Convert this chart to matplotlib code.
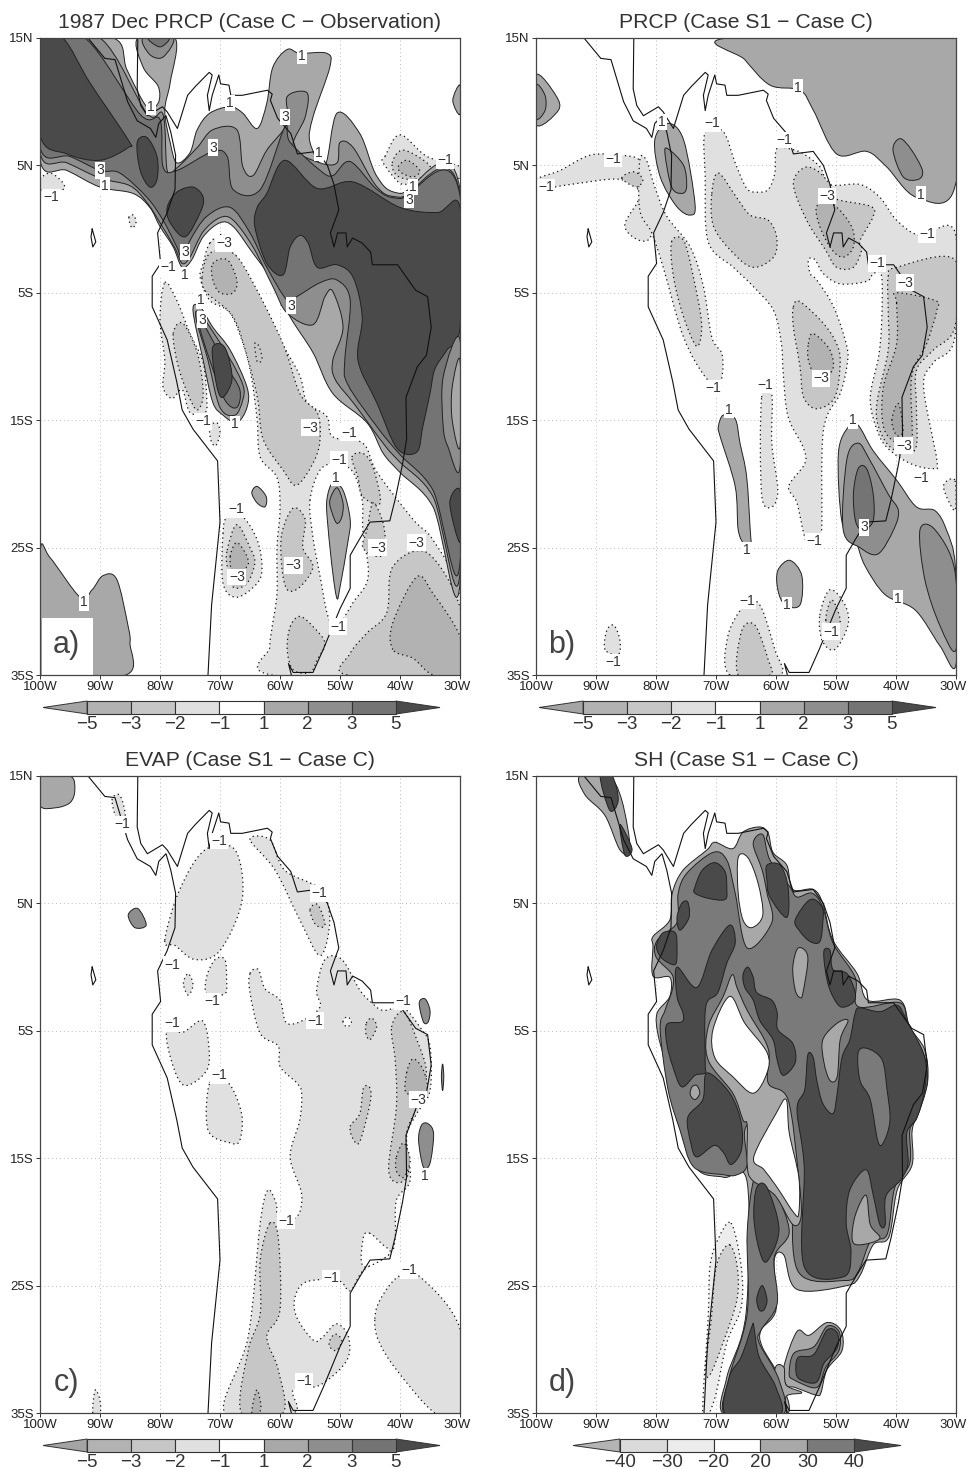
import numpy as np
import matplotlib
matplotlib.use('Agg')
import matplotlib.pyplot as plt
from matplotlib.path import Path
from matplotlib.patches import PathPatch, Rectangle
from matplotlib.transforms import ScaledTranslation

plt.rcParams['font.family'] = ['Liberation Sans', 'DejaVu Sans']

LON_TICKS = [-100, -90, -80, -70, -60, -50, -40, -30]
LON_LABELS = ['100W', '90W', '80W', '70W', '60W', '50W', '40W', '30W']
LAT_TICKS = [15, 5, -5, -15, -25, -35]
LAT_LABELS = ['15N', '5N', '5S', '15S', '25S', '35S']

TITLES = ['1987 Dec PRCP (Case C \u2212 Observation)', 'PRCP (Case S1 \u2212 Case C)',
          'EVAP (Case S1 \u2212 Case C)', 'SH (Case S1 \u2212 Case C)']

# colour bars
PR_LEVELS = [-5, -3, -2, -1, 1, 2, 3, 5]
PR_COLORS = ['#a4a4a4', '#b2b2b2', '#c6c6c6', '#e0e0e0', '#ffffff', '#a8a8a8', '#8e8e8e', '#747474', '#4a4a4a']
SH_LEVELS = [-40, -30, -20, 20, 30, 40]
SH_COLORS = ['#b4b4b4', '#dadada', '#ececec', '#ffffff', '#a8a8a8', '#7a7a7a', '#4a4a4a']

# coast lines, lon/lat
COAST_ATL = [(-83.7,15),(-83.8,11),(-83.2,9.7),(-82.1,8.9),(-79.6,9.6),(-78.8,9.2),(-77.1,7.9),(-75.4,10.5),(-74.1,11.2),(-71.8,12.3),(-71.3,12.1),(-72.1,10.5),(-71.8,9.3),(-71.3,10.5),(-70.2,12.1),(-69.9,11.4),(-68.5,11.3),(-68.2,10.5),(-66.3,10.5),(-62.1,10.9),(-61.3,10.6),(-61.6,10.1),(-60.4,8.7),(-58.2,7.5),(-57.1,5.9),(-53.8,6.1),(-52.1,5),(-51,3.5),(-50.2,1.5),(-51.6,-0.3),(-51,-1.4),(-50.4,-0.3),(-49,-0.3),(-48.8,-1.4),(-47.9,-0.7),(-46.3,-1.1),(-44.9,-1.8),(-44.6,-2.8),(-40.4,-2.8),(-37.4,-4.8),(-35.4,-5.3),(-34.8,-7.7),(-35.6,-9.9),(-37.1,-10.8),(-39,-13.2),(-38.9,-16.5),(-39.6,-18.5),(-40.8,-21.2),(-41.7,-22.9),(-45,-23),(-46.7,-24.3),(-48.3,-25.6),(-48.3,-28.2),(-50,-29.8),(-52.8,-33),(-54.5,-34.8),(-57.8,-34.8),(-58.6,-34.1),(-58.1,-35)]
COAST_PAC = [(-92,15),(-89.2,13.4),(-87.5,13.3),(-85.4,10),(-83.8,8.5),(-81.6,7.9),(-80.7,7.2),(-80.2,8.3),(-79,8.9),(-78.2,7.6),(-77.4,5.8),(-77.5,3.1),(-78.8,1.3),(-80.4,-0.3),(-79.9,-2.7),(-81.3,-3.7),(-81.3,-6.1),(-78.8,-8.7),(-77.2,-12),(-76.3,-14.2),(-74.5,-15.7),(-70.4,-18.2),(-70,-23),(-71.4,-29.5),(-72,-35)]
GALAPAGOS = [(-91.3,0),(-90.7,-1),(-91.2,-1.4),(-91.5,-0.6),(-91.3,0)]

# panel a
A_NEG1 = [
    [(-71.7,-1.1),(-69.2,-0.5),(-66.7,-2.8),(-60,-8.7),(-56.7,-11.5),(-55.5,-13.6),(-52.2,-14.7),(-51.2,-16.3),(-46.2,-16.8),(-43.8,-19.1),(-37.8,-22.8),(-34.5,-24.4),(-30,-28.6),(-30,-35),(-61.3,-35),(-61.7,-32.8),(-61.3,-31.2),(-60.5,-28.6),(-60.5,-25),(-60,-22),(-60.5,-19.5),(-63.3,-17.9),(-63.8,-15),(-64.7,-11.8),(-65.8,-9.5),(-68.3,-6.6),(-71.7,-5.6),(-73.3,-3.8),(-72.8,-2.7)],
    [(-79.2,-4.2),(-77.2,-5.6),(-75,-8.2),(-72.8,-10.5),(-72.2,-13.4),(-72.5,-14.4),(-75,-14.4),(-76.3,-12.6),(-78,-13.3),(-79.5,-12.4),(-79.2,-10.3),(-80,-7.1)],
    [(-71.7,-15.5),(-70.5,-15.2),(-70,-16),(-70.7,-17),(-71.5,-16.6)],
    [(-85.2,0.9),(-84.4,1.1),(-84,0.5),(-84.7,0.1)],
    [(-69.5,-23.9),(-68.8,-22.6),(-66.2,-22.6),(-63.8,-24.4),(-63,-26.5),(-63.8,-27.8),(-67.2,-28.9),(-69.5,-27.8)],
    [(-42.5,5.7),(-40,7.4),(-35.5,5.7),(-30,4.9),(-30,4),(-35.5,4),(-37.8,3.7),(-40,3.6),(-42.8,5.2)],
    [(-100,3.9),(-98.3,4.4),(-96.3,3.7),(-96.2,3.1),(-100,3.1)],
]
A_HOLE = [[(-55,-21.3),(-53.3,-18.9),(-50.5,-18.4),(-47.8,-19.1),(-46.3,-21.3),(-46.2,-23.6),(-45.3,-27.3),(-47.8,-29.3),(-50.5,-31.2),(-52,-30.4),(-53.3,-27.3),(-54.5,-24.2)]]
A_NEG2 = [
    [(-73,-3.8),(-71.7,-1.9),(-67.8,-1.9),(-64.5,-4.2),(-59.5,-9),(-56.7,-12.9),(-53.8,-14.4),(-53.3,-16.3),(-54.2,-18.1),(-57.2,-20.1),(-59.5,-18.9),(-62.8,-16.5),(-63.7,-13.4),(-65.3,-10.3),(-67.8,-6.9),(-72.2,-5)],
    [(-59.7,-23.9),(-57.8,-21.9),(-55.8,-22.8),(-56.2,-25),(-54.5,-26.5),(-56.7,-28.1),(-58.8,-28.3),(-59.7,-26.5)],
    [(-58.3,-31.2),(-56.7,-30.4),(-54.5,-31.2),(-52.5,-32.5),(-53.8,-33.8),(-55,-34.8),(-57.8,-34.6),(-58.8,-33)],
    [(-48.8,-35),(-48.3,-33.3),(-45.5,-31.7),(-42.2,-30.1),(-41.2,-26.5),(-35.5,-25.4),(-30,-29.7),(-30,-35)],
    [(-48,-17.9),(-46.2,-17.6),(-44.5,-18.7),(-43.3,-21.5),(-46.2,-21),(-47,-19.5)],
    [(-45.5,-23.6),(-44.5,-21.5),(-42.8,-23.1),(-42.5,-25.2),(-43.8,-25.7),(-46.2,-25)],
    [(-77.8,-8.2),(-76.2,-7.4),(-73.8,-9.7),(-72.8,-12.9),(-73.8,-14.2),(-75.3,-13),(-77,-10.7)],
    [(-64.2,-9),(-63.5,-9.2),(-63,-10.2),(-63.8,-10.4)],
    [(-68.8,-25.2),(-67.2,-23.2),(-65,-25),(-64.2,-26.2),(-65.5,-27.8),(-67.8,-28.1),(-68.8,-26.5)],
    [(-41.3,5.2),(-39.5,6.2),(-35.5,5.2),(-35,4.4),(-37.8,3.9),(-40.5,4.2)],
]
A_NEG3 = [
    [(-71.2,-2.7),(-68.8,-2.4),(-67.2,-4),(-67.8,-5),(-70,-5),(-71.2,-4)],
    [(-41.2,-33),(-41.2,-30.9),(-37.2,-27.3),(-34.5,-28.6),(-30,-32),(-30,-35),(-34.5,-35),(-37.8,-33.7)],
    [(-68.3,-25.7),(-67.2,-24.6),(-65.5,-25.7),(-65.5,-26.5),(-67.8,-27)],
    [(-40.3,4.9),(-38.8,5.4),(-36.7,4.6),(-37.8,4.1),(-39.7,4.4)],
]
A_POS1 = [
    [(-100,15),(-87.8,15),(-85.5,12.5),(-82.2,9.6),(-80.3,9.9),(-80.3,11.2),(-82.8,12.7),(-83.7,15),(-77.5,15),(-78.3,11.5),(-79.2,9.3),(-78.3,6.8),(-77.2,5.2),(-75,6),(-73.8,7.8),(-71.7,9.1),(-68.3,9.6),(-66.2,9.1),(-63.8,7.9),(-62.2,9.9),(-61.2,12.7),(-58.8,14.1),(-56.7,13.8),(-52.2,13.8),(-51.7,12.7),(-54.5,8.8),(-55,6.8),(-52.5,5),(-50.5,9.1),(-46.7,7.5),(-43.8,4.1),(-40,2.8),(-30,3.1),(-30,-27.8),(-34.5,-21.8),(-40,-19.1),(-42.8,-17.6),(-45.5,-15.2),(-51.2,-12.9),(-54.5,-9.7),(-58.3,-6.9),(-60.5,-4.5),(-64.5,-1.9),(-67.8,0.2),(-70,0.5),(-72.8,-0.6),(-74.7,-2.4),(-76.3,-3),(-77.8,-1.4),(-80,0.2),(-81.7,1.7),(-84.5,2.8),(-90,3.3),(-95.5,4.6),(-100,5.4)],
    [(-74.5,-6.4),(-73.3,-6.1),(-71.2,-7.7),(-68.3,-9.5),(-65.5,-12.4),(-65.5,-14),(-67.2,-15.2),(-69.5,-14.6),(-71.2,-13.6),(-72.8,-10.3)],
    [(-64.7,-20.7),(-63.8,-20.2),(-62.3,-21),(-62.5,-21.8),(-63.8,-21.5)],
    [(-52.2,-21.3),(-51.2,-19.9),(-49.5,-20.5),(-48.3,-22.8),(-48.7,-24.6),(-50,-28.1),(-50.5,-29),(-51.2,-27),(-52,-23.4)],
    [(-100,-25.4),(-98.3,-25.8),(-93.3,-28.9),(-91.3,-28.3),(-89.5,-27.2),(-87.2,-27.5),(-85.3,-31.2),(-85,-32.5),(-85.7,-35),(-100,-35)],
    [(-30,11.3),(-31.2,10.1),(-30,9)],
]
A_POS2 = [
    [(-90,15),(-82.2,9.1),(-79.5,9),(-78.8,4.6),(-77.2,4.8),(-73.8,6.4),(-71.2,7.8),(-67.2,7.8),(-66.2,4.9),(-64.5,4.2),(-62.2,6.2),(-58.8,8.3),(-58.8,10.4),(-55.5,10.7),(-55.8,8.8),(-57.8,6.4),(-53.3,5.2),(-50.5,5.2),(-50,6.8),(-47.8,6.4),(-43.8,3.3),(-40,2.5),(-30,2.7),(-30,-27),(-34.5,-21),(-40,-18.3),(-42.5,-17),(-47.5,-13.8),(-50.8,-11.8),(-51.2,-10.3),(-49.5,-7.7),(-51.2,-4.9),(-52.5,-5.3),(-54.5,-7.5),(-58.8,-6.6),(-61.2,-4.5),(-64.5,-1.4),(-67.8,0.7),(-70,0.9),(-72.8,-0.2),(-75,-2.2),(-76.3,-2.7),(-77.5,-1.5),(-80,0.5),(-82.2,2.1),(-85,3.4),(-90,4),(-95.5,5.2),(-100,6),(-100,15)],
    [(-82.8,15),(-81.7,13.7),(-79.5,13.5),(-77.8,15)],
    [(-74,-7),(-73.2,-6.7),(-68.7,-9.9),(-66.2,-12.2),(-66.2,-13.4),(-67.5,-14.6),(-70,-14),(-72,-10.3)],
    [(-51.7,-21.3),(-50.5,-20.3),(-49.5,-21.5),(-49.7,-22.6),(-50.5,-23.1),(-51.3,-22.3)],
]
A_POS3 = [
    [(-92.5,15),(-83.3,9),(-80,8.6),(-79.5,4.9),(-77.2,4.6),(-71.2,6.1),(-68.8,5.7),(-67.8,3.1),(-63.3,3.1),(-59.2,8),(-58.3,6.8),(-53.3,4.6),(-51.2,4.2),(-48.3,5.3),(-43.8,3.1),(-40,2.4),(-30,2.6),(-30,-26.2),(-34.5,-20.5),(-40,-17.7),(-43.7,-15.6),(-48.7,-12.2),(-49.2,-10.3),(-48.3,-5.6),(-50.5,-4),(-53.3,-4.2),(-57.2,-5.3),(-58.8,-5.6),(-62.2,-3),(-65,-0.3),(-68.3,1.7),(-72.2,1),(-75,-0.9),(-76.2,-2.4),(-77.2,-1.4),(-79.5,0.7),(-82.2,2.5),(-86.7,4.4),(-90,4.6),(-95,5.7),(-100,6.4),(-100,15)],
    [(-82,15),(-80,14.3),(-78.5,15)],
    [(-73.5,-7.5),(-72.7,-7.5),(-69,-10.7),(-66.7,-12.6),(-67.2,-14),(-69.2,-13.4),(-71.7,-10.3)],
]
A_LOBE2 = [[(-30,-8.7),(-32.8,-11.6),(-32.8,-15.5),(-32,-17.1),(-30,-18.7)]]
A_LOBE1 = [[(-30,-10.3),(-31.3,-12.4),(-31.3,-15),(-30,-17.1)]]
A_POS5 = [
    [(-62.2,2.8),(-59.2,5.4),(-53.8,3.2),(-47.8,3.7),(-40,1.7),(-33.8,1.3),(-30,1.7),(-30,-7.7),(-32.2,-9.5),(-34.2,-11),(-35,-12.9),(-36.2,-15.5),(-37.2,-17.5),(-40.5,-17.2),(-43.8,-13.7),(-47,-10.3),(-46.3,-6.9),(-47.8,-3.8),(-50.5,-2.8),(-53.8,-3),(-55.3,-1.1),(-56.7,-0.5),(-58.3,-1.4),(-59.5,-3.6),(-62.2,-2.7),(-64.2,0.2),(-63.8,1.7)],
    [(-100,15),(-96.2,15),(-91.7,11.5),(-85.3,7),(-85.3,6.4),(-90,5.4),(-95.5,5.9),(-100,7.4)],
    [(-83.8,6.8),(-82.2,7.2),(-80.5,5.7),(-80.5,3.9),(-81.7,3.3),(-83.3,4.6)],
    [(-78.8,1.7),(-77.2,2.9),(-74.5,3.3),(-72.8,2.5),(-73.3,1.3),(-75.8,-0.6),(-78.3,0.5)],
    [(-71.3,-9.5),(-70,-9),(-68.8,-9.7),(-68,-11.8),(-69.5,-13.2),(-70.5,-12.4)],
    [(-30,-20.5),(-31.7,-21.5),(-30,-24.6)],
]
A_LABELS = [(-81.5,9.6,'1'),(-68.3,9.9,'1'),(-71.2,6.4,'3'),(-59.2,8.8,'3'),(-56.3,13.6,'1'),(-53.5,6,'1'),(-32.5,5.4,'\u22121'),(-37.8,3.3,'1'),(-38.5,2.3,'3'),(-90,4.6,'3'),(-89.2,3.4,'1'),(-98.2,2.5,'\u22121'),(-75.8,-1.8,'3'),(-78.7,-3,'\u22121'),(-75.8,-3.6,'1'),(-69.3,-1.1,'\u22123'),(-58.2,-6,'3'),(-73.2,-5.6,'1'),(-73,-7.1,'3'),(-72.8,-15.1,'\u22121'),(-67.5,-15.3,'1'),(-55,-15.6,'\u22123'),(-48.5,-16,'\u22121'),(-50.2,-18.1,'\u22121'),(-50.7,-19.5,'1'),(-67.3,-22,'\u22121'),(-67.2,-27.3,'\u22123'),(-57.8,-26.4,'\u22123'),(-92.7,-29.3,'1'),(-43.7,-25,'\u22123'),(-37.3,-24.6,'\u22123'),(-50.3,-31.2,'\u22121')]

# panel b
B_NEG1 = [
    [(-100,3.9),(-96,4.6),(-91,5.8),(-86,5.8),(-82.7,5.4),(-81,3.5),(-80.7,-0.3),(-82.7,-0.9),(-85.2,0.3),(-82.7,2.7),(-86,3.9),(-94.3,3.5),(-100,3.1)],
    [(-71.8,7.65),(-68.8,7.65),(-66.8,5.2),(-64.9,3.2),(-63.2,2.9),(-61.3,3.1),(-60.2,4.4),(-59.9,6.3),(-57.7,6.3),(-55.4,5.9),(-52.7,4.9),(-51,3.5),(-46,3.5),(-42.7,2.5),(-39.9,0.7),(-36,-0.5),(-30.2,-0.2),(-30.2,-8.5),(-33.8,-10.5),(-35.4,-12.4),(-33.2,-18.1),(-33.8,-18.8),(-37.1,-18.5),(-40.4,-17.6),(-42.7,-16.3),(-44.3,-13.4),(-42.9,-10),(-42.4,-7.4),(-42.4,-3.7),(-43.8,-3.5),(-44.9,-4.1),(-49.3,-4.3),(-52.1,-3.5),(-53.5,-2.4),(-54.6,-2.4),(-54.3,-3.5),(-53.2,-4),(-50.4,-6.1),(-48.2,-9.2),(-48.2,-10.8),(-49.3,-12.9),(-52.1,-15.8),(-52.4,-23.6),(-53.2,-25),(-55,-24.5),(-56.5,-21.5),(-57.9,-20.2),(-55.2,-18.4),(-55.5,-17.1),(-58,-14.7),(-58.8,-11.3),(-59.1,-9),(-60.4,-6.4),(-63.8,-4.5),(-67.1,-3),(-71.3,-1),(-71.8,4.1)],
    [(-82.7,5.4),(-81.6,5.4),(-80.2,3.3),(-78.2,1),(-74.3,-1.4),(-72.1,-4.5),(-70.7,-8.5),(-69,-9.8),(-69,-11.6),(-69.9,-12),(-71.8,-11.6),(-75.4,-8.5),(-78.8,-3),(-80.7,-0.3),(-82.7,1.5)],
    [(-62.4,-13.2),(-60.7,-13),(-60.7,-16.8),(-59.7,-20.5),(-60.7,-21.8),(-62.4,-20.8)],
    [(-30.2,-19.7),(-32.1,-20.2),(-30.2,-22.1)],
    [(-67.7,-35),(-68,-31.9),(-65.2,-29.5),(-62.7,-29.5),(-60.2,-33),(-59.3,-35)],
    [(-52.7,-30.3),(-51,-28.3),(-48.5,-29.5),(-48,-31.1),(-50.2,-33),(-52.3,-32.3)],
    [(-88.5,-33),(-88.2,-31.5),(-87,-31.1),(-86,-32.3),(-86.3,-33.4)],
]
B_NEG2 = [
    [(-77.4,-1),(-75.4,-0.9),(-73.8,-3.7),(-72.4,-7.4),(-73.2,-9.2),(-75.4,-6.9),(-77.1,-3.7)],
    [(-70.7,2.8),(-69.6,4.4),(-66.6,2.5),(-64.3,1.1),(-61.3,0.7),(-59.9,-0.6),(-60.4,-2.2),(-63.8,-3),(-67.1,-1.9),(-70.4,0.2)],
    [(-57.1,3.5),(-55.4,4.8),(-53.2,4.6),(-51,3.5),(-50.2,2.4),(-44.3,1.8),(-43.8,1),(-46,-0.9),(-45.7,-1.6),(-47.1,-3),(-49.9,-3),(-51.8,-1.6),(-54.9,0.7)],
    [(-57.1,-6.1),(-56,-5.7),(-52.1,-7.4),(-49.9,-9),(-49.3,-10.5),(-50.2,-13.2),(-53.2,-14.1),(-55.4,-13.2),(-56,-10.8),(-57.1,-7.7)],
    [(-41.3,-3.7),(-39.9,-3),(-30.2,-2.4),(-30.2,-7.7),(-33.8,-9.5),(-36.6,-11.1),(-36.6,-14),(-36.8,-17.3),(-40.4,-17.3),(-42.7,-15.8),(-43.2,-13.7),(-41.3,-9.5),(-41.3,-6.4)],
    [(-66.3,-35),(-65.7,-31.5),(-63.5,-31.1),(-61.3,-33.8),(-61,-35)],
    [(-51.7,-30.7),(-50.7,-29.1),(-49.3,-30.7),(-50.3,-31.6)],
    [(-85.7,4),(-83.7,4.5),(-82.2,3.9),(-83.3,3.3)],
]
B_NEG3 = [
    [(-53.2,1.8),(-50.4,1.9),(-47.4,0.2),(-47.1,-1.4),(-48.8,-2.2),(-50.7,-1.6),(-52.7,0.2)],
    [(-54.6,-9),(-53.8,-8.2),(-51,-9.5),(-50.6,-11.1),(-53.2,-11.6),(-54.6,-10.3)],
    [(-39.9,-5.8),(-39.9,-5),(-33.5,-5.6),(-33.2,-6.4),(-34.9,-9),(-37.4,-11.6),(-37.4,-16.8),(-39.9,-16.8),(-42.1,-15.5),(-42.1,-12.4),(-39.9,-9)],
]
B_NEG5 = [[(-40.7,-15),(-39.6,-13.7),(-38.8,-15.8),(-39.9,-16.2)]]
B_POS1 = [
    [(-68,15),(-65.2,13.3),(-61,11.3),(-56,10.9),(-53.8,9.35),(-49.9,5.9),(-44.9,6.1),(-41.6,4.9),(-36.6,2.5),(-30.2,3.3),(-30,15)],
    [(-100,12.1),(-96.7,10.5),(-96.3,9.3),(-100,8.2)],
    [(-80.2,7),(-78,8.3),(-75.4,7),(-73.5,2),(-74.3,1.1),(-76.6,1.8),(-79.3,4.1)],
    [(-69.6,-15.5),(-68.8,-14.6),(-66.8,-14.9),(-66,-16.8),(-64.9,-19.4),(-64.3,-23.6),(-64.2,-24.8),(-65.2,-24.8),(-66.3,-23.6),(-66.8,-20.2),(-69.3,-16.3)],
    [(-49.6,-17.6),(-47.9,-15.5),(-46.3,-15.4),(-43.8,-17.4),(-39.9,-19.7),(-36.6,-21.8),(-33.5,-22.1),(-31.6,-23.6),(-30.1,-26.5),(-30,-34.2),(-32.7,-32.7),(-36.8,-29.9),(-41.8,-28.7),(-45.2,-26.4),(-46.8,-24.4),(-49,-23)],
    [(-59.7,-26.8),(-57.7,-26),(-55.7,-27.2),(-56,-29.5),(-58.5,-29.5),(-59.7,-28.3)],
]
B_POS2 = [
    [(-40.5,6.2),(-39.3,7.1),(-37.4,6.2),(-35.6,4.6),(-36.3,3.9),(-38.8,4.1)],
    [(-100,11.3),(-98.5,10.5),(-98.5,9.3),(-100,8.7)],
    [(-78.5,5.9),(-78,6.3),(-75.4,5),(-74.9,3.3),(-75.7,2.8),(-77.4,3.3)],
    [(-48.8,-23.6),(-48.2,-18.1),(-46.3,-16.8),(-44.4,-18.1),(-41.3,-20.8),(-39.6,-22.1),(-40.4,-23.6),(-43,-25.5),(-46,-25)],
    [(-36,-23.6),(-33.5,-23.6),(-30.2,-26.8),(-30,-33),(-32.7,-31.1),(-35.2,-27.5)],
]
B_POS3 = [[(-47.1,-20.8),(-46.3,-18.8),(-44.9,-18.8),(-43.8,-20.8),(-43.8,-22.9),(-45.5,-23.6),(-46.7,-23)]]
B_LABELS = [(-56.3,11.1,'1'),(-79,8.4,'1'),(-70.7,8.3,'\u22121'),(-58.7,7,'\u22121'),(-87.2,5.5,'\u22121'),(-98.3,3.3,'\u22121'),(-51.5,2.6,'\u22123'),(-35.8,2.7,'1'),(-34.8,-0.4,'\u22121'),(-43.2,-2.7,'\u22121'),(-38.5,-4.2,'\u22123'),(-52.5,-11.7,'\u22123'),(-70.5,-12.5,'\u22121'),(-61.8,-12.2,'\u22121'),(-67.8,-14.2,'1'),(-47.2,-15,'1'),(-38.7,-17,'\u22123'),(-35.8,-19.5,'\u22121'),(-45.3,-23.4,'3'),(-53.7,-24.5,'\u22121'),(-64.8,-25.2,'1'),(-64.8,-29.2,'\u22121'),(-58.2,-29.5,'1'),(-39.7,-29,'1'),(-50.8,-31.6,'\u22121'),(-87.2,-34,'\u22121')]

# panel c
C_NEG1 = [
    [(-88,13.1),(-86.7,13.5),(-85.8,11.9),(-87,11.4)],
    [(-79.2,2.1),(-76.7,6.1),(-72.5,9.2),(-67.5,9.2),(-66.3,5.3),(-70,1.3),(-74.2,0.6),(-77.5,1.7)],
    [(-65,10),(-61.7,10),(-59.2,7.6),(-53.3,6.1),(-51.7,3.7),(-53.3,0.9),(-56.7,3.7),(-60.8,7.6)],
    [(-65,-0.5),(-63.6,-0.2),(-62.5,-1.7),(-60,-2.6),(-58.9,-4.4),(-55.8,-4.1),(-53.3,-3.1),(-53.9,-1.8),(-52.5,0.6),(-49.7,0.6),(-46.7,-1.8),(-44.7,-2.8),(-42.8,-3.4),(-39.5,-3.2),(-36.7,-4.7),(-35,-6.2),(-35,-9.7),(-37.2,-11.5),(-38.9,-13.3),(-38.3,-16.7),(-40.6,-18.3),(-40.8,-21.2),(-41.7,-22.5),(-46.1,-23.8),(-48.3,-25.4),(-50.3,-24.6),(-55.6,-24.7),(-57.5,-25.9),(-57.2,-27.5),(-54.4,-29.3),(-52.8,-29),(-50.6,-28),(-48.6,-29),(-48.9,-30.9),(-53.3,-32.8),(-57.8,-33.2),(-57.8,-35),(-69.2,-35),(-65.3,-29),(-63.3,-20.1),(-62,-17.5),(-60.6,-18.6),(-60.3,-19.6),(-57.2,-19.6),(-56.4,-17.8),(-58.3,-14.9),(-56.7,-12),(-56.4,-9.9),(-57.2,-9.1),(-60,-7.8),(-60.3,-6.2),(-63.3,-5.2),(-65,-2)],
    [(-44.2,-27.6),(-43.3,-26.1),(-40.3,-24.3),(-36.7,-24.3),(-30,-28.4),(-30,-35),(-34.2,-35),(-40.6,-31.6),(-43.6,-29.3)],
    [(-76.1,-1.3),(-75.3,-0.5),(-74.5,-1.4),(-75.3,-2.2)],
    [(-72.2,-2.1),(-72.2,-0.7),(-70.8,0.6),(-69.2,0.6),(-68.9,-1),(-69.2,-2.1)],
    [(-78.9,-5.1),(-76.1,-5.1),(-73,-4.2),(-71.9,-6),(-72.2,-8.1),(-75.8,-9.3),(-77.8,-7.8)],
    [(-71.7,-9.1),(-68.6,-9.1),(-66.4,-11.5),(-66.7,-13.6),(-68.3,-13.8),(-72,-12.8)],
    [(-91.2,-35),(-90.8,-33.2),(-90,-34),(-90,-35)],
]
C_HOLE = [
    [(-45,-20.9),(-46.1,-21.2),(-46.1,-23.5),(-41.7,-22.5),(-43.1,-21.7)],
    [(-49.5,-4.3),(-48.8,-3.9),(-48.1,-4.3),(-48.8,-4.7)],
]
C_NEG2 = [
    [(-41.4,-4.7),(-39.4,-3.5),(-37.2,-5.7),(-35.6,-8.3),(-37.2,-10.96),(-38.9,-13.1),(-38.6,-16.2),(-40.6,-16.9),(-41.9,-15.7),(-40.6,-10.96),(-40.8,-7.3)],
    [(-45.6,-4.4),(-44.7,-4),(-43.9,-4.7),(-45,-5.7),(-45.7,-5.2)],
    [(-48.3,-12.5),(-46.7,-11.5),(-46.1,-9.5),(-45,-9.5),(-45,-10.7),(-46.7,-13.7),(-47.8,-13.5)],
    [(-61.7,-20.1),(-60.3,-21.2),(-60,-26.9),(-62.2,-29),(-60.3,-31.6),(-59.5,-35),(-66.4,-35),(-65.3,-30.1),(-63.3,-27.2),(-63.3,-23)],
    [(-51.7,-29.3),(-50.8,-28.8),(-49.7,-29.3),(-50.6,-30.1),(-51.7,-29.8)],
    [(-55,4.5),(-53.7,4.9),(-52.5,3.3),(-54,3.3)],
]
C_NEG3 = [
    [(-38.9,-8.3),(-37.8,-7.2),(-36.1,-8.1),(-35.6,-9.7),(-38.9,-9.9)],
    [(-40.6,-14.9),(-39.4,-13.8),(-38.3,-15.2),(-39.4,-16.5),(-40.6,-16)],
    [(-64.7,-35),(-63.9,-33.2),(-63.2,-34.3),(-63.5,-35)],
]
C_POS1 = [[(-100,15),(-95,15),(-94.2,13.9),(-95,12.9),(-97.5,12.5),(-100,12.7)]]
C_POS2 = [
    [(-85.3,4.1),(-83.7,4.6),(-82.3,3.3),(-84.2,3.1)],
    [(-36.8,-2.8),(-35.8,-2.5),(-35,-3.4),(-35.3,-4.3),(-36.1,-4.3)],
    [(-33.1,-8.6),(-32.9,-7.6),(-32.7,-8.6),(-32.9,-9.7)],
    [(-36.9,-13.6),(-36.4,-12.4),(-35.3,-12.3),(-34.4,-13.1),(-35,-15.4),(-36.1,-15.7)],
]
C_LABELS = [(-86.3,11.2,'\u22121'),(-70.2,9.9,'\u22121'),(-53.5,5.8,'\u22121'),(-78,0.2,'\u22121'),(-71.3,-2.7,'\u22121'),(-78,-4.4,'\u22121'),(-54.2,-4.2,'\u22121'),(-39.5,-2.7,'\u22121'),(-70.2,-8.5,'\u22121'),(-37,-10.4,'\u22123'),(-35.8,-16.4,'1'),(-59,-19.9,'\u22121'),(-51.5,-24.4,'\u22121'),(-38.5,-23.8,'\u22121'),(-56,-32.5,'\u22121')]

# panel d
D_NEG20 = [[(-67.5,-20.1),(-65.8,-23.5),(-65.8,-26.7),(-68.2,-29.5),(-70.3,-34),(-72.2,-35.2),(-71.3,-27.5),(-71,-23.5),(-69.7,-21.4)]]
D_NEG30 = [[(-67.7,-21.8),(-66.5,-23.4),(-66.5,-26.1),(-69,-29.7),(-71,-32),(-71.8,-31.6),(-70.8,-27.7),(-70.2,-24.2),(-69.3,-22.6)]]
D_POS20 = [
    [(-80.5,1.6),(-80.5,2.4),(-77.7,3.7),(-77.3,5.8),(-75.5,7.6),(-71.5,9.2),(-70.2,9.8),(-67.2,9.3),(-65.5,10.6),(-62.7,11),(-61.3,10.5),(-60.5,9),(-58.2,8),(-57.2,6.1),(-53.8,6.1),(-52.2,5),(-50.5,2.1),(-46.5,-0.5),(-44.7,-2.6),(-39.3,-2.6),(-37.7,-4.7),(-35.2,-6.5),(-34.7,-8.9),(-36,-11),(-37.3,-12.8),(-37.3,-15.5),(-39.8,-17.5),(-41.2,-21.2),(-43.8,-21.8),(-46,-24.2),(-48.2,-25),(-56.5,-25.3),(-58.7,-22.6),(-60.3,-23),(-60,-26.9),(-62.5,-28.5),(-62.3,-29.8),(-59.5,-32.2),(-58.3,-35.2),(-68.5,-35.2),(-68.2,-32.2),(-65,-27.2),(-64.8,-16.9),(-68.7,-16.5),(-73.2,-15.8),(-75.5,-12),(-78.2,-7.8),(-79.7,-5.2),(-79.8,-3.6),(-77.7,-2.3),(-77.7,-0.8),(-80.5,-0.7)],
    [(-58.7,-31.4),(-56.5,-28.6),(-54.5,-28.9),(-51.5,-27.9),(-49.2,-28.5),(-49,-30.1),(-51.5,-31.6),(-52.5,-33.4),(-53.3,-33.6),(-56.8,-33),(-58.3,-32.8)],
    [(-60.2,-31.6),(-58.7,-31.4),(-58.3,-32.8),(-55.7,-33.4),(-58.3,-33.7),(-58.3,-35.2),(-60.2,-35.2)],
    [(-92.7,15),(-88,15),(-85.7,13.1),(-84.3,9.2),(-86,9.2),(-88.5,11.9),(-91.8,13.5)],
]
D_POS30 = [
    [(-80,0.8),(-79.8,2.1),(-76.5,3.5),(-76.3,5.8),(-74.8,7.4),(-70.5,9),(-68.2,8.4),(-66.8,5.8),(-64.8,1.5),(-60.7,3.5),(-61.5,5.8),(-62.3,7.6),(-63.8,9.7),(-62.2,10.4),(-61,8.4),(-57.7,6.3),(-56.5,5.5),(-54,5.8),(-52.2,4.7),(-50.5,1.9),(-46.8,-0.8),(-46.3,-3.1),(-39.3,-2.8),(-38,-4.7),(-35.5,-6.7),(-34.8,-9.1),(-36.5,-11.8),(-37.7,-12.8),(-37.7,-15.4),(-40.2,-17.3),(-41.5,-21),(-44.2,-21.5),(-46.3,-23.9),(-48.5,-24.6),(-56.3,-23.9),(-57.3,-17.5),(-57.7,-12.4),(-64.8,-12.4),(-64.8,-15.5),(-66.5,-16.3),(-68.7,-16.3),(-73.7,-15.7),(-76,-12.8),(-78,-9.6),(-79.3,-4.9),(-78.5,-3.4),(-77.3,-1.8),(-77.3,-0.6)],
    [(-63.7,-16.7),(-62,-16.6),(-60,-17.7),(-57.8,-20.8),(-60.3,-22.8),(-59.8,-26.4),(-62.5,-28.5),(-62.8,-29.5),(-59.5,-32.4),(-59,-35.2),(-68.3,-35.2),(-67.8,-32.2),(-64.8,-27.2),(-64.8,-20.8)],
    [(-57.8,-31.9),(-57,-30.3),(-53.7,-29.8),(-51.5,-28.2),(-49.5,-28.6),(-49.5,-30.1),(-51.7,-31.4),(-53.2,-33),(-57,-32.4)],
]
D_RING = [[(-67.3,-0.6),(-66.5,-1.6),(-64.8,-3.4),(-61.3,-6.4),(-61.3,-9.1),(-58,-10.4),(-56.3,-16.1),(-55.8,-19.5),(-57.2,-20.2),(-60.2,-17.9),(-64,-16.7),(-64.8,-15.5),(-64.8,-12.4),(-65.5,-12),(-67.2,-9.9),(-71.3,-7.3),(-71.3,-4.7),(-68.8,-2.3)]]
D_HOLE = [
    [(-66.3,8.6),(-64.7,8.6),(-63,6.6),(-62.2,4.1),(-64,3.1),(-65.5,3.7),(-66.3,5.8)],
    [(-67.7,-2.3),(-65.2,-4.4),(-61.5,-6.7),(-61.5,-8.3),(-63.8,-9.9),(-67.2,-8.6),(-70.2,-7.1),(-70.5,-4.9)],
    [(-60,-11.5),(-63.7,-14.9),(-62,-15.9),(-59.8,-17.3),(-57,-19.3),(-56.2,-19.3),(-56.2,-16.5),(-57.8,-13),(-58.3,-10.4)],
]
D_POS40 = [
    [(-73.5,6.3),(-72.3,7.6),(-70.2,8.2),(-68.5,7.5),(-68.2,6.2),(-68.5,5.3),(-71.3,5.4),(-73.5,5.8)],
    [(-76.5,3.9),(-75.7,5),(-74.7,5.1),(-74.5,3.9),(-76,2.9)],
    [(-79.8,1.9),(-78.8,2.7),(-76.8,2.7),(-76.5,1.3),(-76.8,0.2),(-78.8,0.6),(-79.8,1.3)],
    [(-76.5,0),(-73.2,-1.6),(-70.7,1.3),(-67.7,3.3),(-66.8,1.9),(-68.2,0.3),(-69.7,-2),(-71.7,-3.1),(-71.8,-7.5),(-71.8,-8.3),(-73.5,-8.5),(-75.7,-9.4),(-77.2,-7.8),(-78.2,-6),(-78.2,-4.5),(-75.7,-4.3),(-75.5,-3.6),(-76.5,-2.3)],
    [(-74.7,-11.8),(-72.2,-10.4),(-71.5,-8.3),(-67.7,-9.9),(-65.8,-12.2),(-65.8,-14.4),(-67.5,-15.5),(-68.7,-14.6),(-70.3,-14),(-73.2,-14.9),(-74.2,-13.8)],
    [(-65.5,-0.6),(-64.7,0),(-63.8,-0.8),(-63.2,-2),(-60.7,-2.6),(-59.8,-3.6),(-59.7,-4.9),(-57.2,-6),(-56.8,-7.5),(-58.8,-8.5),(-59.8,-7.3),(-60.5,-5.7),(-62.7,-4.2),(-63.8,-2.6),(-65.2,-1.6)],
    [(-61.5,8),(-59.3,8),(-58,6.3),(-58.2,3.9),(-61,5.5),(-61.5,6.8)],
    [(-56.8,3.7),(-54.3,5.3),(-52.3,4.7),(-52.2,3.5),(-52.7,2),(-54.3,2),(-56,2.8)],
    [(-52,1.3),(-51,1.3),(-50.5,-0.2),(-48.2,-0.5),(-46.8,-2),(-47.2,-2.8),(-49.3,-3.1),(-51,-1.8),(-51.8,-0.2)],
    [(-56.5,-11.2),(-55.3,-15.7),(-55.3,-23.5),(-48.7,-24.3),(-47.5,-22.4),(-48.3,-20.1),(-47.7,-17.5),(-45,-15.9),(-43.8,-17.9),(-42.7,-20.2),(-41.8,-20.2),(-41.7,-18),(-39.2,-16.7),(-38,-15.4),(-38.2,-13),(-36.5,-11.8),(-35.2,-9.6),(-35.2,-7.1),(-38.2,-4.2),(-39.8,-3),(-42.7,-3.5),(-46,-3.2),(-46.8,-3.6),(-47.7,-5.7),(-49,-7.1),(-49.8,-9.9),(-50.5,-11.5),(-52.2,-10.7),(-53.2,-8.9),(-53.8,-7.1),(-54.7,-6.9),(-55.2,-9.6)],
    [(-63.2,-17.3),(-61.5,-17.3),(-59.5,-20.6),(-61.5,-23.1),(-62.8,-22.2),(-63.7,-19.6)],
    [(-63.2,-26),(-62.3,-25),(-61.5,-26.1),(-62,-26.9),(-62.8,-26.9)],
    [(-64,-28.2),(-65.8,-30.6),(-67.8,-32.2),(-68.2,-35.2),(-59.5,-35.2),(-60,-33),(-62.8,-30.6),(-63.7,-28.2)],
    [(-56.7,-31.4),(-56.2,-30.6),(-53.7,-30.4),(-51.5,-28.5),(-49.8,-28.7),(-49.8,-29.9),(-52,-31.1),(-53.3,-32.6),(-56.2,-32.3)],
    [(-89.3,15),(-87.3,15),(-86.3,13.1),(-87.7,12.3)],
    [(-86,11.2),(-84,9.3),(-85.2,8.8)],
]
D_NOTCH30 = [[(-46.3,-6.7),(-44.7,-6.4),(-42.3,-7.3),(-41.5,-9.6),(-41,-12),(-42,-13.7),(-43,-13.7),(-44.3,-10.4),(-46,-8.9)]]
D_BLOB20 = [
    [(-57.2,0),(-56.3,1.5),(-54.7,0.8),(-55.5,-2),(-56,-2.4),(-56.8,-1.8)],
    [(-52.2,-5.7),(-49.8,-4.4),(-48,-4.2),(-49.3,-5.7),(-49.8,-8.6),(-51,-8.9),(-52,-7.5)],
    [(-74,-9.4),(-73.2,-9.3),(-72.7,-9.9),(-73.5,-10.4),(-74.3,-10)],
    [(-47.3,-21.4),(-46.8,-19.5),(-45,-17.9),(-44.3,-20.2),(-42.7,-21.3),(-46,-21.8)],
]


def smooth_path(pts):
    # closed Catmull-Rom, gives the rounded GrADS contour look
    p = np.array(pts, dtype=float)
    n = len(p)
    verts = [p[0]]
    codes = [Path.MOVETO]
    for i in range(n):
        p0, p1, p2, p3 = p[i - 1], p[i], p[(i + 1) % n], p[(i + 2) % n]
        verts += [p1 + (p2 - p0) / 6, p2 - (p3 - p1) / 6, p2]
        codes += [Path.CURVE4] * 3
    return Path(np.array(verts), codes)


def fill_layer(ax, polys, color, dotted=False):
    for pts in polys:
        if dotted:
            patch = PathPatch(smooth_path(pts), fc=color, ec='#111111', lw=0.9, ls=(0, (1, 2.6)), zorder=2)
        else:
            patch = PathPatch(smooth_path(pts), fc=color, ec='#222222', lw=0.7, zorder=2)
        ax.add_patch(patch)


def base_map(px_left, px_top, title):
    ax = fig.add_axes([px_left / W, 1 - (px_top + 637) / H, 420 / W, 637 / H])
    ax.set_xlim(-100, -30)
    ax.set_ylim(-35, 15)
    ax.set_xticks(LON_TICKS)
    ax.set_xticklabels(LON_LABELS, fontsize=9.5)
    ax.set_yticks(LAT_TICKS)
    ax.set_yticklabels(LAT_LABELS, fontsize=9.5)
    ax.tick_params(length=3, width=0.7, pad=1.5, color='#333333', labelcolor='#222222')
    last = ax.get_xticklabels()[-1]
    last.set_transform(last.get_transform() + ScaledTranslation(-2 / 72, 0, fig.dpi_scale_trans))
    ax.grid(True, color='#bbbbbb', ls=(0, (1, 3)), lw=0.7, zorder=1)
    ax.set_axisbelow(True)
    for s in ax.spines.values():
        s.set_linewidth(0.9)
        s.set_color('#444444')
        s.set_zorder(6)
    ax.set_title(title, fontsize=15.2, color='#333333', pad=7)
    return ax


def finish_map(ax, labels, tag):
    for coast in (COAST_ATL, COAST_PAC, GALAPAGOS):
        xy = np.array(coast)
        ax.plot(xy[:, 0], xy[:, 1], color='#111111', lw=0.8, zorder=3)
    for lon, lat, txt in labels:
        ax.text(lon, lat, txt, fontsize=10, ha='center', va='center', color='#333333', zorder=5,
                bbox=dict(fc='white', ec='none', pad=1))
    ax.text(0.062, 0.047, tag, transform=ax.transAxes, fontsize=22, ha='center', va='center', color='#444444', zorder=5)


def colorbar(px_left, px_right, px_top, levels, colors):
    ax = fig.add_axes([px_left / W, 1 - (px_top + 13) / H, (px_right - px_left) / W, 13 / H])
    n = len(levels)
    ax.set_xlim(-1, n)
    ax.set_ylim(0, 1)
    ax.axis('off')
    ax.fill([-1, 0, 0], [0.5, 0, 1], color=colors[0], ec='#333333', lw=0.7, clip_on=False)
    ax.fill([n - 1, n, n - 1], [0, 0.5, 1], color=colors[-1], ec='#333333', lw=0.7, clip_on=False)
    for i in range(n - 1):
        ax.add_patch(Rectangle((i, 0), 1, 1, fc=colors[i + 1], ec='#333333', lw=0.8, clip_on=False))
    for i, lev in enumerate(levels):
        txt = str(lev).replace('-', '\u2212')
        ax.text(i, -1.15, txt, fontsize=13.5, ha='center', va='baseline', color='#333333', clip_on=False)


W, H = 967, 1469
fig = plt.figure(figsize=(W / 100, H / 100), dpi=100)
NEG1, NEG2, NEG3, NEG5 = PR_COLORS[3], PR_COLORS[2], PR_COLORS[1], PR_COLORS[0]
POS1, POS2, POS3, POS5 = PR_COLORS[5], PR_COLORS[6], PR_COLORS[7], PR_COLORS[8]

# a
ax = base_map(40, 38, TITLES[0])
fill_layer(ax, A_NEG1, NEG1, True)
fill_layer(ax, A_HOLE, 'white', True)
fill_layer(ax, A_NEG2, NEG2, True)
fill_layer(ax, A_NEG3, NEG3, True)
fill_layer(ax, A_POS1, POS1)
fill_layer(ax, A_POS2, POS2)
fill_layer(ax, A_POS3, POS3)
fill_layer(ax, A_POS5, POS5)
fill_layer(ax, A_LOBE2, POS2)
fill_layer(ax, A_LOBE1, POS1)
ax.add_patch(Rectangle((-99.7, -35), 8.5, 4.45, fc='white', ec='none', zorder=4))
finish_map(ax, A_LABELS, 'a)')

# b
ax = base_map(536, 38, TITLES[1])
fill_layer(ax, B_NEG1, NEG1, True)
fill_layer(ax, B_NEG2, NEG2, True)
fill_layer(ax, B_NEG3, NEG3, True)
fill_layer(ax, B_NEG5, NEG5, True)
fill_layer(ax, B_POS1, POS1)
fill_layer(ax, B_POS2, POS2)
fill_layer(ax, B_POS3, POS3)
finish_map(ax, B_LABELS, 'b)')

# c
ax = base_map(40, 776, TITLES[2])
fill_layer(ax, C_NEG1, NEG1, True)
fill_layer(ax, C_HOLE, 'white', True)
fill_layer(ax, C_NEG2, NEG2, True)
fill_layer(ax, C_NEG3, NEG3, True)
fill_layer(ax, C_POS1, POS1)
fill_layer(ax, C_POS2, POS2)
finish_map(ax, C_LABELS, 'c)')

# d
ax = base_map(536, 776, TITLES[3])
fill_layer(ax, D_NEG20, SH_COLORS[2], True)
fill_layer(ax, D_NEG30, '#cfcfcf', True)
fill_layer(ax, D_POS20, SH_COLORS[4])
fill_layer(ax, D_POS30, SH_COLORS[5])
fill_layer(ax, D_RING, SH_COLORS[4])
fill_layer(ax, D_HOLE, 'white')
fill_layer(ax, D_POS40, SH_COLORS[6])
fill_layer(ax, D_NOTCH30, SH_COLORS[5])
fill_layer(ax, D_BLOB20, SH_COLORS[4])
finish_map(ax, [], 'd)')

colorbar(43, 440, 701, PR_LEVELS, PR_COLORS)
colorbar(539, 936, 701, PR_LEVELS, PR_COLORS)
colorbar(43, 440, 1439, PR_LEVELS, PR_COLORS)
colorbar(573, 901, 1439, SH_LEVELS, SH_COLORS)

fig.savefig('out.png', dpi=100)
